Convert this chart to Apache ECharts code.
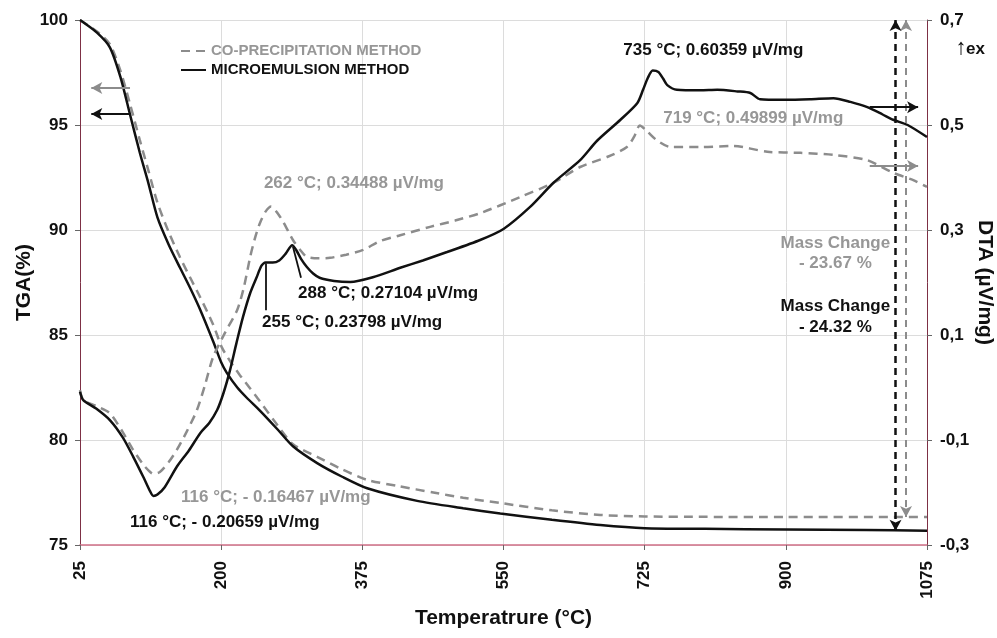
<!DOCTYPE html>
<html><head><meta charset="utf-8">
<script src="https://cdn.jsdelivr.net/npm/echarts@6/dist/echarts.min.js"></script>
<style>html,body{margin:0;padding:0;background:#fff}#c{width:997px;height:638px}</style>
</head><body><div id="c"></div>
<script>
// ---------- data ----------
const xTicks = [25, 200, 375, 550, 725, 900, 1075];
const tgaTicks = [75, 80, 85, 90, 95, 100];
const dtaTicks = [-0.3, -0.1, 0.1, 0.3, 0.5, 0.7];

// TGA, microemulsion method (%)
const tgaMeT = [25, 46, 62, 75, 87, 99, 110, 121, 135, 149, 162, 174, 190, 200, 207, 220, 232, 248, 270, 289, 319, 350, 381, 443, 500, 546, 610, 670, 725, 800, 900, 1000, 1075];
const tgaMeV = [100, 99.4, 98.7, 97.3, 95.5, 93.7, 92.2, 90.6, 89.3, 88.2, 87.2, 86.2, 84.7, 83.7, 83.2, 82.5, 82.0, 81.4, 80.5, 79.7, 78.9, 78.25, 77.7, 77.1, 76.75, 76.5, 76.2, 75.95, 75.8, 75.77, 75.74, 75.71, 75.68];

// TGA, co-precipitation method (%)
const tgaCoT = [25, 46, 62, 75, 87, 99, 110, 121, 135, 149, 162, 174, 190, 201, 212, 223, 235, 248, 265, 289, 319, 350, 381, 420, 463, 500, 546, 610, 670, 725, 800, 900, 1075];
const tgaCoV = [100, 99.45, 98.85, 97.6, 96.0, 94.3, 92.8, 91.3, 89.9, 88.7, 87.7, 86.8, 85.5, 84.4, 83.7, 83.1, 82.5, 81.85, 80.95, 79.8, 79.2, 78.6, 78.1, 77.8, 77.5, 77.25, 77.0, 76.65, 76.43, 76.36, 76.34, 76.33, 76.33];

// DTA, microemulsion method (µV/mg)
const dtaMeT = [25, 29, 45, 62, 78, 91, 104, 112, 116, 121, 130, 145, 160, 174, 185, 195, 203, 211, 219, 227, 236, 244, 250, 255, 264, 272, 280, 288, 293, 299, 306, 314, 322, 340, 360, 388, 422, 450, 480, 521, 550, 583, 612, 645, 666, 695, 716, 723, 729, 735, 742, 748, 753, 765, 794, 815, 840, 856, 868, 897, 930, 959, 980, 1001, 1020, 1033, 1051, 1075];
const dtaMeV = [-0.008, -0.024, -0.04, -0.062, -0.095, -0.132, -0.172, -0.198, -0.2066, -0.204, -0.19, -0.151, -0.12, -0.087, -0.068, -0.043, -0.01, 0.033, 0.085, 0.134, 0.18, 0.21, 0.232, 0.238, 0.238, 0.242, 0.255, 0.271, 0.262, 0.245, 0.23, 0.217, 0.209, 0.203, 0.201, 0.21, 0.228, 0.242, 0.258, 0.281, 0.302, 0.344, 0.39, 0.433, 0.47, 0.51, 0.542, 0.567, 0.59, 0.6036, 0.601, 0.588, 0.576, 0.567, 0.566, 0.567, 0.564, 0.561, 0.549, 0.548, 0.549, 0.551, 0.544, 0.534, 0.52, 0.51, 0.5, 0.477];

// DTA, co-precipitation method (µV/mg)
const dtaCoT = [25, 29, 45, 62, 78, 91, 104, 112, 116, 124, 135, 145, 157, 170, 180, 190, 205, 220, 228, 236, 242, 248, 255, 262, 270, 277, 289, 298, 306, 320, 335, 355, 376, 397, 422, 459, 490, 521, 571, 612, 645, 680, 703, 712, 719, 728, 740, 757, 794, 835, 877, 918, 959, 1001, 1033, 1058, 1075];
const dtaCoV = [-0.005, -0.024, -0.035, -0.049, -0.085, -0.119, -0.148, -0.161, -0.1647, -0.161, -0.142, -0.119, -0.085, -0.043, 0.005, 0.058, 0.105, 0.148, 0.19, 0.249, 0.285, 0.313, 0.335, 0.3449, 0.332, 0.315, 0.281, 0.262, 0.249, 0.246, 0.247, 0.253, 0.262, 0.279, 0.29, 0.306, 0.318, 0.332, 0.363, 0.39, 0.42, 0.44, 0.458, 0.478, 0.499, 0.488, 0.471, 0.458, 0.458, 0.46, 0.449, 0.447, 0.443, 0.433, 0.409, 0.395, 0.382];

const massChangeCo = 23.67;
const massChangeMe = 24.32;

// ---------- chart ----------
const FONT = "'Liberation Sans', Arial, sans-serif";
const BLACK = '#111111';
const GRAY = '#8c8c8c';
const GRAYTXT = '#979797';
const zip = (a, b) => a.map((t, i) => [t, b[i]]);
const fmtDta = v => (Math.round(v * 10) / 10).toFixed(1).replace('.', ',');

const chart = echarts.init(document.getElementById('c'), null, {renderer: 'canvas'});

const NAME_CO = 'CO-PRECIPITATION METHOD';
const NAME_ME = 'MICROEMULSION METHOD';

const option = {
  animation: false,
  backgroundColor: '#fff',
  grid: {left: 80, right: 70, top: 20, bottom: 93, containLabel: false, outerBoundsMode: 'none'},
  legend: {
    left: 175, top: 38, orient: 'vertical',
    itemWidth: 25, itemHeight: 14, itemGap: 3, itemTextGap: 9,
    selectedMode: false,
    itemStyle: {color: 'transparent', borderColor: 'transparent', borderWidth: 0, opacity: 0},
    data: [
      {name: NAME_CO, textStyle: {color: GRAYTXT}},
      {name: NAME_ME, textStyle: {color: BLACK}}
    ],
    textStyle: {fontFamily: FONT, fontSize: 15, fontWeight: 'bold', lineHeight: 16}
  },
  xAxis: {
    type: 'value', min: 25, max: 1075,
    name: 'Temperatrure (°C)', nameLocation: 'middle', nameGap: 63, nameMoveOverlap: false,
    nameTextStyle: {fontFamily: FONT, fontSize: 21, fontWeight: 'bold', color: BLACK},
    axisLine: {show: true, onZero: false, lineStyle: {color: '#cf6f86', width: 1.5}},
    axisTick: {show: true, length: 5, customValues: xTicks, lineStyle: {color: '#666'}},
    axisLabel: {customValues: xTicks, rotate: 90, margin: 16, formatter: v => String(v),
                fontFamily: FONT, fontSize: 17, fontWeight: 'bold', color: BLACK},
    splitLine: {show: true, lineStyle: {color: '#dcdcdc', width: 1}}
  },
  yAxis: [
    {
      type: 'value', min: 75, max: 100, interval: 5, position: 'left',
      name: 'TGA(%)', nameLocation: 'middle', nameGap: 45, nameRotate: 90, nameMoveOverlap: false,
      nameTextStyle: {fontFamily: FONT, fontSize: 21, fontWeight: 'bold', color: BLACK},
      axisLine: {show: true, onZero: false, lineStyle: {color: '#7d3045', width: 1}},
      axisTick: {show: true, length: 5, lineStyle: {color: '#666'}},
      axisLabel: {margin: 12, fontFamily: FONT, fontSize: 17, fontWeight: 'bold', color: BLACK},
      splitLine: {show: true, lineStyle: {color: '#dcdcdc', width: 1}}
    },
    {
      type: 'value', min: -0.3, max: 0.7, position: 'right',
      name: 'DTA (µV/mg)', nameLocation: 'middle', nameGap: 47, nameRotate: -90, nameMoveOverlap: false,
      nameTextStyle: {fontFamily: FONT, fontSize: 21, fontWeight: 'bold', color: BLACK},
      axisLine: {show: true, onZero: false, lineStyle: {color: '#7d3045', width: 1}},
      axisTick: {show: true, length: 5, customValues: dtaTicks, lineStyle: {color: '#666'}},
      axisLabel: {customValues: dtaTicks, margin: 13, formatter: fmtDta, fontFamily: FONT, fontSize: 17, fontWeight: 'bold', color: BLACK},
      splitLine: {show: false}
    }
  ],
  series: [
    {
      name: NAME_CO, type: 'line', yAxisIndex: 0, showSymbol: false, symbol: 'none',
      smooth: 0.25,
      data: zip(tgaCoT, tgaCoV),
      lineStyle: {color: GRAY, width: 2.5, type: [9, 6]}, itemStyle: {color: GRAY},
      markLine: {
        silent: true, animation: false, label: {show: false}, symbolSize: [9, 11],
        lineStyle: {color: GRAY, width: 1.8},
        data: [
          [{coord: [1049, 100], symbol: 'arrow', lineStyle: {type: [7, 5], color: GRAY, width: 2}}, {coord: [1049, 100 - massChangeCo], symbol: 'arrow'}],
          [{coord: [87, 96.76], symbol: 'none', lineStyle: {type: 'solid', color: GRAY, width: 2}}, {coord: [39, 96.76], symbol: 'arrow'}]
        ]
      }
    },
    {
      name: NAME_ME, type: 'line', yAxisIndex: 0, showSymbol: false, symbol: 'none',
      smooth: 0.25,
      data: zip(tgaMeT, tgaMeV),
      lineStyle: {color: BLACK, width: 2.5}, itemStyle: {color: BLACK},
      markLine: {
        silent: true, animation: false, label: {show: false}, symbolSize: [9, 11],
        lineStyle: {color: BLACK, width: 2},
        data: [
          [{coord: [1036, 100], symbol: 'arrow', lineStyle: {type: [7, 5], color: BLACK, width: 2.5}}, {coord: [1036, 100 - massChangeMe], symbol: 'arrow'}],
          [{coord: [87, 95.52], symbol: 'none', lineStyle: {type: 'solid', color: BLACK, width: 2}}, {coord: [39, 95.52], symbol: 'arrow'}]
        ]
      }
    },
    {
      name: NAME_CO, type: 'line', yAxisIndex: 1, showSymbol: false, symbol: 'none',
      smooth: 0.25,
      data: zip(dtaCoT, dtaCoV),
      lineStyle: {color: GRAY, width: 2.5, type: [9, 6]}, itemStyle: {color: GRAY},
      markLine: {
        silent: true, animation: false, label: {show: false}, symbolSize: [9, 11],
        data: [
          [{coord: [1004, 0.422], symbol: 'none', lineStyle: {type: 'solid', color: GRAY, width: 2}}, {coord: [1064, 0.422], symbol: 'arrow'}]
        ]
      }
    },
    {
      name: NAME_ME, type: 'line', yAxisIndex: 1, showSymbol: false, symbol: 'none',
      smooth: 0.25,
      data: zip(dtaMeT, dtaMeV),
      lineStyle: {color: BLACK, width: 2.5}, itemStyle: {color: BLACK},
      markLine: {
        silent: true, animation: false, label: {show: false}, symbolSize: [9, 11],
        data: [
          [{coord: [1004, 0.534], symbol: 'none', lineStyle: {type: 'solid', color: BLACK, width: 2}}, {coord: [1064, 0.534], symbol: 'arrow'}],
          [{coord: [255.5, 0.236], symbol: 'none', lineStyle: {type: 'solid', color: BLACK, width: 1.8}}, {coord: [255.5, 0.147], symbol: 'none'}],
          [{coord: [289, 0.268], symbol: 'none', lineStyle: {type: 'solid', color: BLACK, width: 1.8}}, {coord: [299, 0.209], symbol: 'none'}]
        ]
      }
    }
  ]
};
chart.setOption(option);

// annotations anchored in data coordinates (x: °C, y: DTA axis)
const notes = [
  {t: '262 °C; 0.34488 µV/mg', x: 253, y: 0.3895, c: GRAYTXT, a: 'left'},
  {t: '288 °C; 0.27104 µV/mg', x: 295.4, y: 0.18, c: BLACK, a: 'left'},
  {t: '255 °C; 0.23798 µV/mg', x: 250.7, y: 0.1248, c: BLACK, a: 'left'},
  {t: '116 °C; - 0.16467 µV/mg', x: 150.3, y: -0.2086, c: GRAYTXT, a: 'left'},
  {t: '116 °C; - 0.20659 µV/mg', x: 87, y: -0.256, c: BLACK, a: 'left'},
  {t: '735 °C; 0.60359 µV/mg', x: 698.5, y: 0.643, c: BLACK, a: 'left'},
  {t: '719 °C; 0.49899 µV/mg', x: 748, y: 0.5133, c: GRAYTXT, a: 'left'},
  {t: 'Mass Change', x: 961.4, y: 0.2752, c: GRAYTXT, a: 'center'},
  {t: '- ' + massChangeCo.toFixed(2) + ' %', x: 961.4, y: 0.2371, c: GRAYTXT, a: 'center'},
  {t: 'Mass Change', x: 961.4, y: 0.1552, c: BLACK, a: 'center'},
  {t: '- ' + massChangeMe.toFixed(2) + ' %', x: 961.4, y: 0.1152, c: BLACK, a: 'center'}
];
const graphics = notes.map(n => {
  const p = chart.convertToPixel({xAxisIndex: 0, yAxisIndex: 1}, [n.x, n.y]);
  return {
    type: 'text', silent: true, z: 50,
    style: {text: n.t, x: p[0], y: p[1], fill: n.c, textAlign: n.a, textVerticalAlign: 'middle',
            font: 'bold 17px ' + FONT}
  };
});
// "↑ex" marker beside the top of the DTA axis
const pTop = chart.convertToPixel({xAxisIndex: 0, yAxisIndex: 1}, [1075, 0.645]);
graphics.push({
  type: 'text', silent: true, z: 50,
  style: {text: '↑', x: pTop[0] + 34, y: pTop[1] - 1, fill: BLACK, textAlign: 'center', textVerticalAlign: 'middle',
          font: '22px ' + FONT}
});
graphics.push({
  type: 'text', silent: true, z: 50,
  style: {text: 'ex', x: pTop[0] + 39, y: pTop[1], fill: BLACK, textAlign: 'left', textVerticalAlign: 'middle',
          font: 'bold 17px ' + FONT}
});
chart.setOption({graphic: graphics});
</script>
</body></html>
